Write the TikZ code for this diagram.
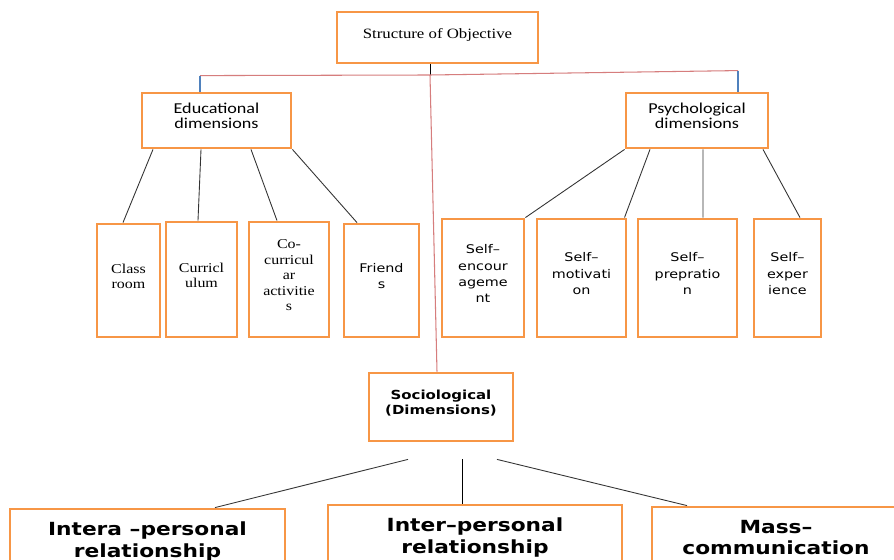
\documentclass[tikz,border=0pt]{standalone}
\usepackage{fontspec}
\setmainfont{Liberation Serif}[FakeStretch=1.18]
\setsansfont{DejaVu Sans}[FakeStretch=1.2]
\newfontfamily\calfont{Carlito}[FakeStretch=1.2]
\usetikzlibrary{calc}
\definecolor{boxorange}{RGB}{247,150,70}
\definecolor{linkred}{RGB}{214,125,125}
\definecolor{linkblue}{RGB}{79,129,189}
\newcommand\boxlift{5pt}

\tikzset{
  objbox/.style={draw=boxorange, line width=1.6pt, align=center, inner sep=1pt,
    execute at end node={\rule[-\boxlift]{0pt}{0pt}}},
  boxsize/.style 2 args={minimum width=#1*0.02cm, minimum height=#2*0.02cm},
  serifbox/.style={objbox, font=\fontsize{7.7}{8.8}\selectfont},
  selfbox/.style={objbox, font=\sffamily\fontsize{6.8}{9.2}\selectfont},
  dimbox/.style={objbox, font=\calfont\fontsize{8.6}{8.6}\selectfont},
  socbox/.style={objbox, font=\sffamily\bfseries\fontsize{7.1}{8.5}\selectfont},
  relbox/.style={objbox, font=\sffamily\bfseries\fontsize{10.3}{12}\selectfont},
  link/.style={draw=black!80, line width=0.5pt}
}

\begin{document}
\begin{tikzpicture}[x=0.02cm, y=-0.02cm]
  \useasboundingbox (0,0) rectangle (894,560);
  \fill[white] (0,0) rectangle (894,560);
  \clip (0,0) rectangle (894,560);

  \node[serifbox, boxsize={201}{51}, font=\fontsize{8.1}{9}\selectfont] (objective) at (437.5,37.5) {Structure of Objective};
  \node[dimbox, boxsize={149}{55}] (educational) at (216.5,120.5) {Educational\\dimensions};
  \node[dimbox, boxsize={142}{55}] (psychological) at (697,120.5) {Psychological\\dimensions};

  \node[serifbox, boxsize={63}{113}] (classroom) at (128.5,280.5) {Class\\room};
  \node[serifbox, boxsize={71}{115}] (curriculum) at (201.5,279.5) {Curricl\\ulum};
  \node[serifbox, boxsize={80}{115}] (cocurricular) at (289,279.5) {Co-\\curricul\\ar\\activitie\\s};
  \node[selfbox, boxsize={75}{113}] (friends) at (381.5,280.5) {Friend\\s};

  \node[selfbox, boxsize={82}{118}] (selfenc) at (483,278) {Self–\\encour\\ageme\\nt};
  \node[selfbox, boxsize={89}{118}] (selfmot) at (581.5,278) {Self–\\motivati\\on};
  \node[selfbox, boxsize={99}{118}] (selfprep) at (687.5,278) {Self–\\prepratio\\n};
  \node[selfbox, boxsize={67}{118}] (selfexp) at (787.5,278) {Self–\\exper\\ience};

  \node[socbox, boxsize={144}{68}] (sociological) at (441,407) {Sociological\\(Dimensions)};

  \node[relbox, boxsize={275}{70}] (intrapersonal) at (147.5,544) {Intera –personal\\relationship};
  \node[relbox, boxsize={294}{70}] (interpersonal) at (475,540) {Inter–personal\\relationship};
  \node[relbox, boxsize={248}{70}] (masscomm) at (776,542) {Mass–\\communication};

  \coordinate (hub) at (430,75);
  \coordinate (eduturn) at ($(educational.north)+(-16.5,-16)$);
  \coordinate (psyturn) at ($(psychological.north)+(41,-21)$);
  \draw[link, black] ($(objective.south)+(-7.5,0)$) -- (hub);
  \draw[linkred, line width=0.6pt] (eduturn) -- (hub) -- (psyturn);
  \draw[linkred, line width=0.6pt] (hub) -- ($(sociological.north)+(-4,0)$);
  \draw[linkblue, line width=0.6pt] (eduturn) -- (eduturn |- educational.north);
  \draw[linkblue, line width=0.6pt] (psyturn) -- (psyturn |- psychological.north);

  \draw[link] ($(educational.south)+(-63.5,0)$) -- ($(classroom.north)+(-5.5,0)$);
  \draw[link] ($(educational.south)+(-15.5,0)$) -- ($(curriculum.north)+(-3.5,0)$);
  \draw[link] ($(educational.south)+(34.5,0)$) -- ($(cocurricular.north)+(-12,0)$);
  \draw[link] (educational.south east) -- ($(friends.north)+(-24.5,0)$);

  \draw[link] (psychological.south west) -- (selfenc.north east);
  \draw[link] ($(psychological.south)+(-47,0)$) -- ($(selfmot.north)+(43,0)$);
  \draw[link] ($(psychological.south)+(6,0)$) -- ($(selfprep.north)+(15.5,0)$);
  \draw[link] ($(psychological.south)+(66,0)$) -- ($(selfexp.north)+(12.5,0)$);

  \draw[link] ($(sociological.south)+(-33,17)$) -- ($(intrapersonal.north)+(67.5,0)$);
  \draw[link, black] ($(sociological.south)+(21,17)$) -- ($(interpersonal.north)+(-13,0)$);
  \draw[link] ($(sociological.south)+(56,17)$) -- ($(masscomm.north)+(-89,0)$);
\end{tikzpicture}
\end{document}
